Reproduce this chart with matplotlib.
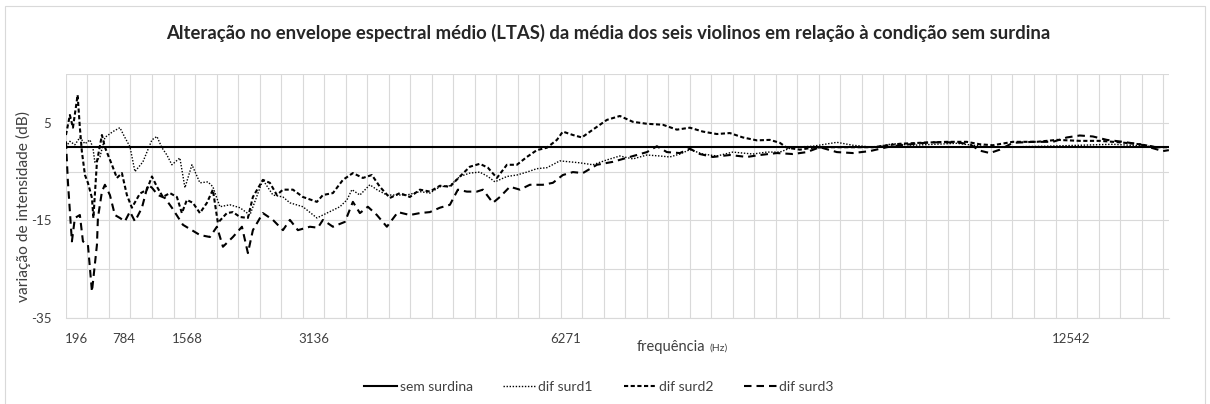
import numpy as np
import matplotlib.pyplot as plt
import matplotlib as mpl
from matplotlib.patches import Rectangle

mpl.rcParams["font.family"] = ["Lato", "DejaVu Sans"]
mpl.rcParams["axes.unicode_minus"] = False

# frequency (Hz) and level change (dB)
freq_ref = [60, 13759]
db_ref = [0, 0]

freq_s1 = [60, 109, 171, 233, 296, 358, 395, 420, 482, 544, 643, 730, 792, 855, 917,
           1016, 1128, 1190, 1252, 1314, 1376, 1475, 1538, 1625, 1724, 1823, 1885, 1972,
           2096, 2221, 2345, 2506, 2631, 2755, 2842, 3003, 3177, 3301, 3463, 3550, 3612,
           3711, 3835, 3922, 4046, 4171, 4295, 4456, 4580, 4705, 4829, 4953, 5077, 5201,
           5301, 5388, 5537, 5661, 5785, 5909, 6034, 6195, 6319, 6443, 6605, 6779, 6940,
           7102, 7276, 7437, 7561, 7685, 7810, 7971, 8145, 8344, 8592, 8766, 8927, 9089,
           9337, 9635, 9834, 10083, 10331, 10579, 11126, 11536, 12244, 13063, 13486, 13759]
db_s1 = [0.1, 1.2, 0.5, 2, 0.7, 1.5, -0.1, -3.2, -2, 2, 3.2, 4, 2, 0.1, -5,
         -3, 1.5, 2.2, -0.1, -1.6, -3.6, -2.2, -8.3, -3.6, -7.3, -7.1, -8.1, -12.2,
         -11.8, -12.4, -13.9, -6.7, -9.8, -10.2, -11.4, -12.2, -14.5, -13.5, -12.2, -10.8, -8.7,
         -9.8, -7.7, -8.7, -9.8, -9.8, -9.8, -9.1, -9.4, -8.1, -7.9, -6, -5.3, -5.1,
         -6, -7.1, -6, -5.7, -5.1, -4.4, -4.2, -2.8, -3, -3.2, -3.6, -2.6, -1.8,
         -2.4, -1.6, -1.8, -2, -1.4, -0.5, -1.4, -1.8, -1, -1.4, -1, -1, 0,
         0.2, 1, 0.4, 0, 0.7, 0.4, 0.8, 0, 0.2, 0.6, 0.2, 0]

freq_s2 = [60, 109, 147, 205, 233, 258, 296, 333, 383, 401, 445, 507, 544, 631, 693,
           755, 817, 879, 979, 1066, 1128, 1190, 1264, 1351, 1438, 1500, 1562, 1637, 1724,
           1811, 1885, 1947, 2059, 2134, 2221, 2320, 2382, 2506, 2593, 2680, 2755, 2879,
           3003, 3177, 3252, 3376, 3500, 3624, 3748, 3860, 3959, 4084, 4208, 4332, 4456,
           4580, 4705, 4829, 4953, 5077, 5201, 5301, 5413, 5537, 5661, 5785, 5909, 6034,
           6158, 6232, 6357, 6468, 6605, 6779, 6940, 7102, 7276, 7474, 7648, 7810, 7971,
           8145, 8306, 8468, 8642, 8803, 8927, 9014, 9176, 9337, 9511, 9834, 10083, 10418,
           10666, 11002, 11250, 11411, 11573, 11821, 12119, 12368, 12653, 12902, 13150,
           13399, 13610, 13759]
db_s2 = [2.5, 6.6, 4, 10.7, 4, -0.9, -5.7, -7.3, -10.4, -14.5, -3, 2.5, 0, -3.6, -6.3,
         -5.3, -9.8, -12.4, -9.5, -8.7, -6, -8.1, -10.2, -9.4, -10.2, -13.5, -10.8, -11.4, -13.5,
         -11.4, -8.7, -15.5, -13.5, -13.3, -14.3, -14.5, -10.2, -6.7, -7.3, -9.8, -8.7, -8.7,
         -10.2, -11.2, -9.8, -9.4, -6.7, -5.3, -6.3, -5.7, -8.1, -10.4, -9.4, -10.2, -8.7,
         -9.1, -7.9, -8.1, -6, -4, -3.4, -4.2, -6.3, -3.6, -3.6, -2, -0.6, -0.1,
         1.5, 3.2, 2.5, 2, 3.6, 5.6, 6.4, 5.2, 4.8, 4.6, 3.6, 4, 3.2,
         2.7, 2.9, 2, 1.4, 1.5, 0.9, -0.1, -0.5, -0.1, 0, 0, 0, 0.7,
         0.9, 1.1, 1.1, 0.6, 0.4, 1.1, 1.1, 1.5, 1.3, 1.3, 1,
         0.6, 0, 0]

freq_s3 = [60, 84, 134, 171, 233, 271, 333, 383, 445, 457, 507, 544, 606, 668, 730,
           792, 855, 917, 1004, 1078, 1128, 1202, 1289, 1376, 1513, 1724, 1848, 1935, 2010,
           2134, 2246, 2320, 2382, 2506, 2631, 2755, 2842, 2941, 3090, 3189, 3252, 3376,
           3525, 3624, 3711, 3810, 3922, 4046, 4183, 4332, 4456, 4580, 4705, 4829, 4928,
           5040, 5164, 5239, 5363, 5450, 5574, 5698, 5822, 5984, 6108, 6232, 6357, 6481,
           6655, 6853, 7064, 7276, 7400, 7524, 7685, 7810, 7934, 8095, 8306, 8518, 8679,
           8890, 9089, 9263, 9424, 9635, 9834, 10045, 10256, 10418, 10790, 11126, 11287,
           11411, 11536, 11660, 11821, 12070, 12318, 12492, 12653, 12815, 12989, 13187,
           13399, 13560, 13684, 13759]
db_s3 = [1.2, -7, -19.3, -14.5, -13.9, -19.3, -20, -29.6, -20, -14.5, -9.1, -7.7, -9.8, -13.9, -14.5,
         -15.2, -13.2, -15.2, -12.4, -7.7, -8.3, -9.8, -10.4, -12.4, -15.9, -18, -18.4, -16.3, -20.4,
         -18.4, -16.3, -21.7, -17, -13.5, -14.9, -17, -14.9, -17, -16.3, -16.5, -14.9, -16.3,
         -15.3, -11.2, -13.5, -12.2, -13.9, -16.3, -13.3, -13.9, -13.5, -13.3, -12.4, -11.8, -8.7,
         -9.1, -9.1, -8.7, -11.4, -10.2, -8.1, -8.7, -7.7, -7.7, -7.3, -5.7, -5.1, -5.3,
         -3.6, -3, -2, -1, 0.2, -1, -1.2, -0.3, -1.4, -2, -1.6, -2, -1.6,
         -1.2, -1.4, -1, 0, -1, -1.2, -0.8, 0, 0.4, 1, 1, 0.6,
         -0.7, -1.2, -0.5, 0.9, 1.1, 1.1, 2, 2.4, 2.2, 1.5, 1.1,
         0.6, -0.2, -0.8, -0.6]

note_ticks = [196, 784, 1568, 3136, 6271, 12542]

fig = plt.figure(figsize=(12.1, 4.04), dpi=100)
ax = fig.add_axes([0.0545, 0.2129, 0.9115, 0.6039])

ax.plot(freq_ref, db_ref, color="black", lw=1.5, label="sem surdina")
ax.plot(freq_s1, db_s1, color="black", lw=1.0, linestyle=(0, (1, 1.2)), label="dif surd1")
ax.plot(freq_s2, db_s2, color="black", lw=1.5, linestyle=(0, (2.0, 1.2)), label="dif surd2")
ax.plot(freq_s3, db_s3, color="black", lw=1.5, linestyle=(0, (3.6, 2.4)), label="dif surd3")

ax.set_xlim(60, 13759)
ax.set_ylim(-35, 15)
ax.set_xticks(note_ticks)
ax.set_xticks(60 + 267.2 * np.arange(52), minor=True)
ax.set_yticks([-35, -15, 5])
ax.set_yticks([-25, -5, 15], minor=True)
ax.grid(True, which="both", color="#d9d9d9", lw=0.8)
ax.grid(False, which="major", axis="x")
ax.set_axisbelow(True)
ax.tick_params(which="both", length=0, labelsize=9.5, colors="#404040")
ax.tick_params(axis="x", pad=11)
ax.tick_params(axis="y", pad=10.5)
for s in ["top", "right", "left"]:
    ax.spines[s].set_visible(False)
ax.spines["bottom"].set_color("#d9d9d9")

fig.text(0.5025, 0.918, "Alteração no envelope espectral médio (LTAS) da média dos seis violinos em relação à condição sem surdina",
         ha="center", va="center", fontsize=13.3, fontweight="bold", color="#262626")
fig.text(0.019, 0.488, "variação de intensidade (dB)", rotation=90, ha="center", va="center",
         fontsize=11.2, color="#404040")
fig.text(637 / 1210, 1 - 347 / 404, "frequência", ha="left", va="center", fontsize=10.5, color="#404040")
fig.text(709 / 1210, 1 - 348 / 404, "(Hz)", ha="left", va="center", fontsize=7.5, color="#404040")

fig.legend(loc="center", bbox_to_anchor=(0.495, 1 - 387 / 404), ncol=4, frameon=False,
           fontsize=10, handlelength=2.4, handletextpad=0.15, columnspacing=2.2,
           labelcolor="#404040")

fig.patches.append(Rectangle((5 / 1210, -0.05), 1200 / 1210, 1.05 - 6 / 404, transform=fig.transFigure,
                             fill=False, edgecolor="#d9d9d9", lw=0.8))

fig.savefig("out.png", dpi=100)
